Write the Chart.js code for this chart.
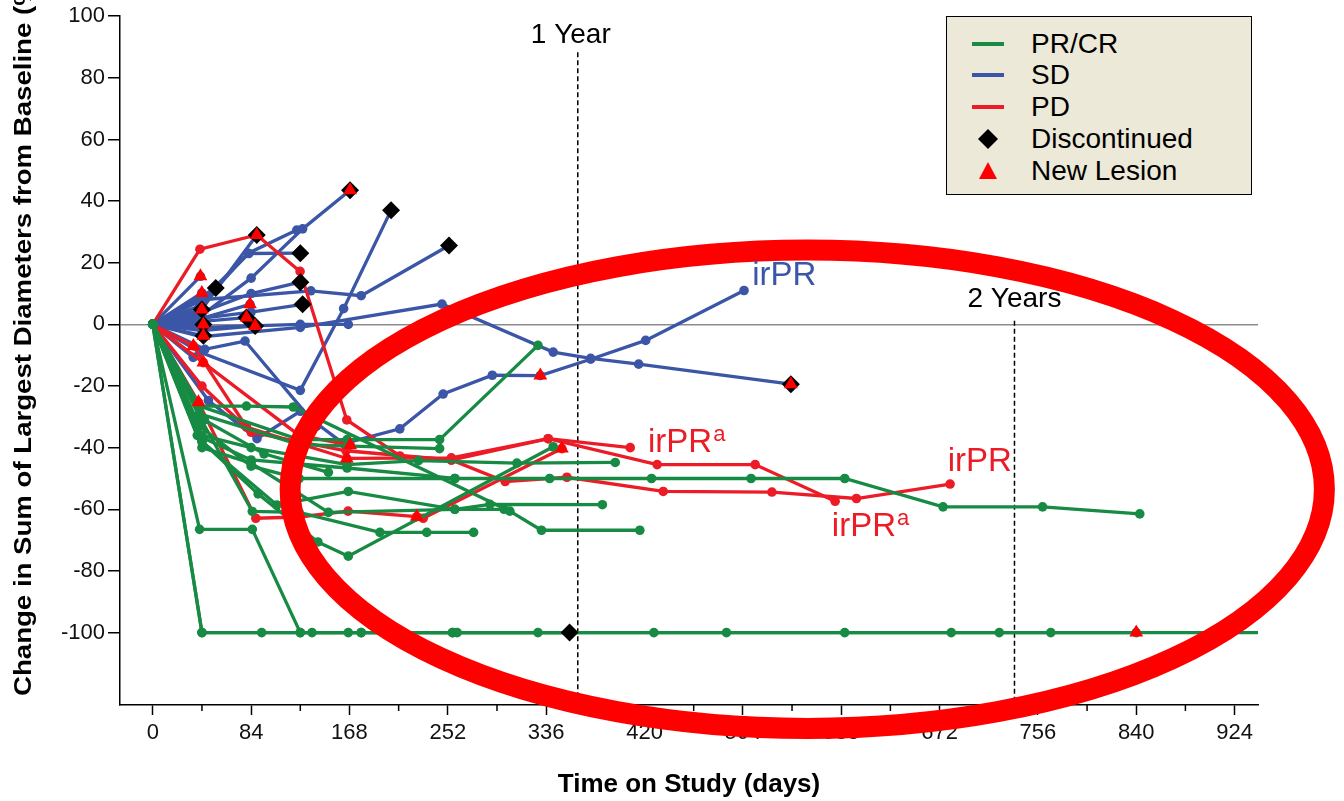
<!DOCTYPE html>
<html>
<head>
<meta charset="utf-8">
<script src="https://cdn.jsdelivr.net/npm/chart.js@4.4.1/dist/chart.umd.min.js"></script>
<style>
  html, body { margin: 0; padding: 0; background: #fff; overflow: hidden; }
  #wrap { position: relative; width: 1344px; height: 801px; }
  #legend {
    position: absolute; left: 946px; top: 16px; width: 306px; height: 179px;
    background: #ece9d8; border: 1.5px solid #000; box-sizing: border-box;
    font-family: "Liberation Sans", Arial, sans-serif; font-size: 28px; color: #000;
  }
  .row { position: absolute; left: 0; height: 32px; display: flex; align-items: center; }
  .row svg { margin-left: 25px; margin-right: 27px; }
</style>
</head>
<body>
<div id="wrap">
  <canvas id="spider" width="1344" height="801"></canvas>
  <div id="legend">
    <div class="row" style="top:11px"><svg width="32" height="32"><line x1="0" y1="16" x2="32" y2="16" stroke="#178a43" stroke-width="4"/></svg>PR/CR</div>
    <div class="row" style="top:42px"><svg width="32" height="32"><line x1="0" y1="16" x2="32" y2="16" stroke="#3b56a6" stroke-width="4"/></svg>SD</div>
    <div class="row" style="top:74px"><svg width="32" height="32"><line x1="0" y1="16" x2="32" y2="16" stroke="#ec1c27" stroke-width="4"/></svg>PD</div>
    <div class="row" style="top:106px"><svg width="32" height="32"><polygon points="16,6 26,16 16,26 6,16" fill="#000"/></svg>Discontinued</div>
    <div class="row" style="top:138px"><svg width="32" height="32"><polygon points="16,7 25,24 7,24" fill="#f00"/></svg>New Lesion</div>
  </div>
</div>
<script>
// Spider plot: % change from baseline per patient over time
const GREEN = '#178a43', BLUE = '#3b56a6', RED = '#ec1c27';

const xTicks = [0, 84, 168, 252, 336, 420, 504, 588, 672, 756, 840, 924];
const xMinor = [42, 126, 210, 294, 378, 462, 546, 630, 714, 798, 882];
const yTicks = [-100, -80, -60, -40, -20, 0, 20, 40, 60, 80, 100];

// PR/CR patients [day, % change]
const prcrLines = [
  [[0,0],[40,-33],[84,-46],[125,-50],[258,-50],[339,-50],[426,-50],[511,-50],[591,-50],[675,-59.2],[760,-59.2],[843,-61.5]],
  [[0,0],[40,-26.5],[80,-26.5],[120,-26.8],[305,-60.6],[332,-66.8],[416,-66.8]],
  [[0,0],[42,-38],[106,-58.6],[167,-54.2],[258,-60],[288,-58.4],[384,-58.5]],
  [[0,0],[40,-26.5],[125,-37.4],[166,-37.4],[245,-37.4],[329,-6.8]],
  [[0,0],[42,-36],[84,-40],[166,-45.5],[227,-44.2],[311,-45],[395,-44.8]],
  [[0,0],[42,-38],[90,-55],[141,-70.6],[167,-75.2],[342,-39.7]],
  [[0,0],[40,-30],[85,-60.7],[125,-61],[194,-67.5],[234,-67.5],[274,-67.5]],
  [[0,0],[40,-29],[125,-39],[245,-40.3]],
  [[0,0],[42,-40],[84,-45],[150,-61],[258,-60],[300,-60]],
  [[0,0],[40,-66.5],[85,-66.5],[126,-100],[136,-100],[178,-100],[260,-100],[428,-100],[591,-100],[723,-100],[840,-100]],
  [[0,0],[42,-100],[93,-100],[167,-100],[256,-100],[329,-100],[356,-100]],
  [[0,0],[42,-100],[126,-100],[178,-100],[256,-100],[490,-100],[682,-100],[767,-100],[960,-100]],
  [[0,0],[38,-36],[84,-44],[166,-46.6],[258,-50]],
  [[0,0],[44,-31],[95,-42],[150,-48]]
];

// SD patients
const sdLines = [
  [[0,0],[42,3],[84,15],[128,31],[168.5,43.5]],
  [[0,0],[40,-9],[126,-21.4],[163,5.1],[203.5,37]],
  [[0,0],[42,8],[135,10.9],[178,9.3],[253,25.6]],
  [[0,0],[47.5,-24.7],[89,-37.1],[126,-28.2],[163,-38.7],[211,-33.9],[248,-22.6],[290,-16.5],[331,-16.6],[374,-11.3],[421,-5.2],[505,11]],
  [[0,0],[42,-4],[126,-1],[247,6.6],[342,-9],[374,-11],[415,-12.9],[545,-19.4]],
  [[0,0],[42,-1],[126,0],[167,0]],
  [[0,0],[40,6],[81.6,23.1],[123,30.6]],
  [[0,0],[44.5,-8.1],[78.8,-5.4],[140,-33]],
  [[0,0],[42,8],[82,23],[126,23.1]],
  [[0,0],[42,4],[84,10],[126,13.7]],
  [[0,0],[84,4],[128,6.5]],
  [[0,0],[34.5,-10.7]],
  [[0,0],[41.9,10.2]],
  [[0,0],[41.9,4.8]],
  [[0,0],[43.2,0]],
  [[0,0],[43.2,-3.7]],
  [[0,0],[40.7,15.6]],
  [[0,0],[53.8,11.8]],
  [[0,0],[42,1],[80,2.2]],
  [[0,0],[42,2],[83,6.5]],
  [[0,0],[42,-2],[87.4,-0.5]],
  [[0,0],[42,5],[88.8,29]]
];

// PD patients
const pdLines = [
  [[0,0],[40.3,24.4],[88.8,29],[125.8,17.2],[165.7,-31],[211,-42.7],[255,-44],[301,-51],[353.7,-49.6],[436,-54.2],[528.8,-54.4],[601,-56.5],[681,-51.8]],
  [[0,0],[42,-20],[84,-35],[165,-41],[255,-44],[337.7,-37.1],[430.8,-45.5],[514.5,-45.5],[582.8,-57.4]],
  [[0,0],[34.7,-7],[80,-33.3],[165.7,-43.5],[255,-43.3],[337.7,-37.1],[407.8,-40]],
  [[0,0],[39,-25.3],[88,-62.9],[125,-62.5],[166.8,-60.6],[225.5,-62.4],[231,-62.9],[349.4,-40.3]],
  [[0,0],[43.2,-12.4],[125,-36],[168.6,-39.2]]
];

const discontinued = [[88.8,29],[126,23.1],[53.8,11.8],[126,13.7],[128,6.5],[41.9,4.8],[43.2,0],[43.2,-3.7],[80,2.2],[87.4,-0.5],[168.5,43.5],[203.5,37],[253,25.6],[545,-19.4],[356,-100]];
const newLesion = [[88.8,29],[40.7,15.6],[41.9,10.2],[41.9,4.8],[43.2,0],[43.2,-3.7],[83,6.5],[80,2.2],[87.4,-0.5],[168.5,43.5],[34.7,-7],[43.2,-12.4],[39,-25.3],[165.7,-43.5],[168.6,-39.2],[225.5,-62.4],[349.4,-40.3],[331,-16.6],[545,-19.4],[840,-100]];

// reference lines and annotations
const yearDays = [363, 736];
const yearLineTop = [88.3, 1.2];
const yearLabels = ['1 Year', '2 Years'];
const yearLabelX = [357, 736];
const yearLabelY = [91.4, 5.8];
const noteText = ['irPR', 'irPR', 'irPR', 'irPR'];
const noteSup = ['', 'a', '', 'a'];
const noteColor = [BLUE, RED, RED, RED];
const noteX = [512, 423, 679, 580];
const noteY = [12.8, -41.5, -47.6, -68.6];
const ring = [559, -53.5, 441.7, 77.6]; // centre day, centre %, radius days, radius %
const yTitle = 'Change in Sum of Largest Diameters from Baseline (%)';

const toXY = pts => pts.map(p => ({ x: p[0], y: p[1] }));

function lineSet(pts, color, order) {
  return {
    data: toXY(pts), showLine: true, borderColor: color, backgroundColor: color,
    borderWidth: 3.3, pointRadius: 4.8, pointHoverRadius: 4.8, pointBorderWidth: 0, order: order
  };
}

const datasets = [];
prcrLines.forEach(p => datasets.push(lineSet(p, GREEN, 2)));
pdLines.forEach(p => datasets.push(lineSet(p, RED, 3)));
sdLines.forEach(p => datasets.push(lineSet(p, BLUE, 4)));
datasets.push({ data: toXY(discontinued), pointStyle: 'rectRot', pointRadius: 9, backgroundColor: '#000', borderWidth: 0, order: 1 });
datasets.push({ data: toXY(newLesion), pointStyle: 'triangle', pointRadius: 8, backgroundColor: '#f00', borderWidth: 0, order: 0 });

const overlay = {
  id: 'overlay',
  beforeDatasetsDraw(chart) {
    const { ctx, chartArea, scales: { x, y } } = chart;
    ctx.save();
    ctx.strokeStyle = '#000';
    ctx.lineWidth = 1.5;
    ctx.setLineDash([5, 3]);
    yearDays.forEach((d, i) => {
      const px = x.getPixelForValue(d);
      ctx.beginPath();
      ctx.moveTo(px, y.getPixelForValue(yearLineTop[i]));
      ctx.lineTo(px, chartArea.bottom);
      ctx.stroke();
    });
    ctx.restore();
  },
  afterDatasetsDraw(chart) {
    const { ctx, scales: { x, y } } = chart;
    ctx.save();
    ctx.textBaseline = 'alphabetic';
    ctx.fillStyle = '#000';
    ctx.font = '28px "Liberation Sans", Arial, sans-serif';
    ctx.textAlign = 'center';
    yearLabels.forEach((t, i) => ctx.fillText(t, x.getPixelForValue(yearLabelX[i]), y.getPixelForValue(yearLabelY[i])));
    ctx.restore();
  },
  afterDraw(chart) {
    const { ctx, chartArea, scales: { x, y } } = chart;
    ctx.save();
    // minor ticks on the time axis
    ctx.strokeStyle = '#000';
    ctx.lineWidth = 1.5;
    xMinor.forEach(d => {
      const px = x.getPixelForValue(d);
      ctx.beginPath();
      ctx.moveTo(px, chartArea.bottom);
      ctx.lineTo(px, chartArea.bottom + 6);
      ctx.stroke();
    });
    // y axis title, a little condensed like the original
    ctx.save();
    ctx.translate(24, chartArea.bottom - 9);
    ctx.rotate(-Math.PI / 2);
    ctx.scale(1.15, 1);
    ctx.font = 'bold 24px "Liberation Sans", Arial, sans-serif';
    ctx.fillStyle = '#000';
    ctx.textAlign = 'left';
    ctx.textBaseline = 'middle';
    ctx.fillText(yTitle, 0, 0);
    ctx.restore();
    // red highlight ellipse
    const cx = x.getPixelForValue(ring[0]);
    const cy = y.getPixelForValue(ring[1]);
    const rx = x.getPixelForValue(ring[0] + ring[2]) - cx;
    const ry = y.getPixelForValue(ring[1] - ring[3]) - cy;
    ctx.beginPath();
    ctx.ellipse(cx, cy, rx, ry, 0, 0, Math.PI * 2);
    ctx.strokeStyle = '#ff0000';
    ctx.lineWidth = 21;
    ctx.stroke();
    // response annotations
    ctx.textBaseline = 'alphabetic';
    ctx.textAlign = 'left';
    noteText.forEach((t, i) => {
      const px = x.getPixelForValue(noteX[i]);
      const py = y.getPixelForValue(noteY[i]);
      ctx.fillStyle = noteColor[i];
      ctx.font = '33px "Liberation Sans", Arial, sans-serif';
      ctx.fillText(t, px, py);
      if (noteSup[i]) {
        const w = ctx.measureText(t).width;
        ctx.font = '22px "Liberation Sans", Arial, sans-serif';
        ctx.fillText(noteSup[i], px + w + 1, py - 11);
      }
    });
    ctx.restore();
  }
};

Chart.defaults.font.family = '"Liberation Sans", Arial, sans-serif';

new Chart(document.getElementById('spider'), {
  type: 'scatter',
  data: { datasets: datasets },
  options: {
    responsive: false,
    animation: false,
    devicePixelRatio: 1,
    layout: { padding: { top: 12, right: 86, left: 0, bottom: 0 } },
    plugins: { legend: { display: false }, tooltip: { enabled: false } },
    scales: {
      x: {
        type: 'linear', min: -28, max: 944,
        afterBuildTicks: s => { s.ticks = xTicks.map(v => ({ value: v })); },
        afterFit: s => { s.height = 96; },
        grid: { drawOnChartArea: false, tickLength: 10, tickColor: '#000', tickWidth: 1.5 },
        border: { color: '#000', width: 1.5 },
        ticks: { color: '#111', font: { size: 22 }, padding: 5, maxRotation: 0, autoSkip: false },
        title: { display: true, text: 'Time on Study (days)', color: '#000', font: { size: 26, weight: 'bold' }, padding: { top: 0, bottom: 1 } }
      },
      y: {
        min: -123.5, max: 100,
        afterBuildTicks: s => { s.ticks = yTicks.map(v => ({ value: v })); },
        afterFit: s => { s.width = 120; },
        grid: {
          color: c => (c.tick && c.tick.value === 0 ? '#8c8c8c' : 'rgba(0,0,0,0)'),
          lineWidth: 1.5, tickLength: 12, tickColor: '#000', tickWidth: 1.5
        },
        border: { color: '#000', width: 1.5 },
        ticks: { color: '#111', font: { size: 22 }, padding: 3 }
      }
    }
  },
  plugins: [overlay]
});
</script>
</body>
</html>
